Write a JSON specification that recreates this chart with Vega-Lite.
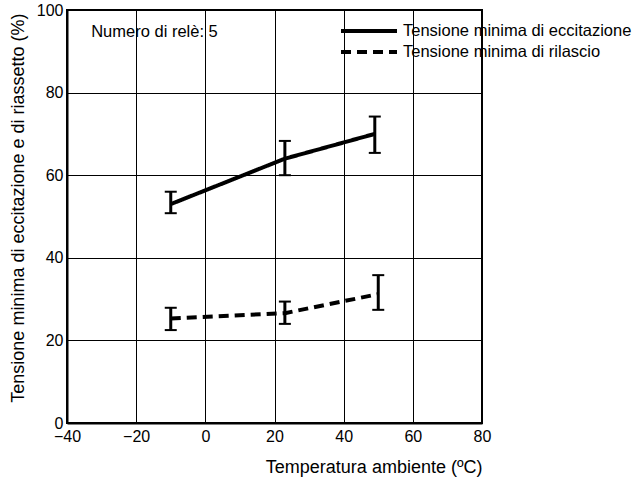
{
  "$schema": "https://vega.github.io/schema/vega-lite/v6.json",
  "autosize": {"type": "none"},
  "padding": {"left": 67, "top": 10, "right": 157, "bottom": 55},
  "width": 415,
  "height": 413,
  "config": {
    "font": "Liberation Sans",
    "view": {"stroke": "black", "strokeWidth": 2},
    "axis": {
      "labelFont": "Liberation Sans",
      "titleFont": "Liberation Sans",
      "labelFontSize": 16,
      "titleFontSize": 18,
      "labelColor": "black",
      "titleColor": "black",
      "titleFontWeight": "normal",
      "gridColor": "black",
      "gridOpacity": 1,
      "gridWidth": 1,
      "domainColor": "black",
      "domainWidth": 2,
      "ticks": false
    }
  },
  "datasets": {
    "pts": [
      {"series": "Tensione minima di eccitazione", "t": -10, "v": 53, "lo": 50.8, "hi": 56},
      {"series": "Tensione minima di eccitazione", "t": 23, "v": 64, "lo": 60, "hi": 68.3},
      {"series": "Tensione minima di eccitazione", "t": 49, "v": 70, "lo": 65.4, "hi": 74.2},
      {"series": "Tensione minima di rilascio", "t": -10, "v": 25.3, "lo": 22.5, "hi": 27.9},
      {"series": "Tensione minima di rilascio", "t": 23, "v": 26.6, "lo": 24, "hi": 29.4},
      {"series": "Tensione minima di rilascio", "t": 50, "v": 31.2, "lo": 27.4, "hi": 35.8}
    ],
    "note": [{"t": -33, "v": 94.7, "label": "Numero di relè: 5"}]
  },
  "layer": [
    {
      "data": {"name": "pts"},
      "mark": {"type": "line", "color": "black", "strokeWidth": 4},
      "encoding": {
        "x": {
          "field": "t", "type": "quantitative",
          "scale": {"domain": [-40, 80], "nice": false},
          "axis": {
            "values": [-40, -20, 0, 20, 40, 60, 80],
            "title": "Temperatura ambiente (ºC)",
            "titleAnchor": "end",
            "titlePadding": 14,
            "labelPadding": 5,
            "labelFlush": false
          }
        },
        "y": {
          "field": "v", "type": "quantitative",
          "scale": {"domain": [0, 100], "nice": false},
          "axis": {
            "values": [0, 20, 40, 60, 80, 100],
            "title": "Tensione minima di eccitazione e di riassetto (%)",
            "titleAngle": -90,
            "titleX": -49,
            "titleY": 3,
            "titleAlign": "right",
            "titleBaseline": "middle",
            "labelPadding": 4,
            "labelFlush": false
          }
        },
        "strokeDash": {
          "field": "series", "type": "nominal",
          "scale": {"range": [[1, 0], [10, 6]]},
          "legend": {
            "title": null,
            "orient": "none",
            "legendX": 293,
            "legendY": 12,
            "symbolType": "M-4,0H4",
            "symbolSize": 196,
            "symbolStrokeWidth": 4,
            "symbolStrokeColor": "black",
            "symbolFillColor": "transparent",
            "labelFontSize": 16.5,
            "labelFont": "Liberation Sans",
            "labelColor": "black",
            "labelOffset": 25,
            "rowPadding": 3,
            "labelLimit": 400
          }
        }
      }
    },
    {
      "data": {"name": "pts"},
      "mark": {"type": "rule", "color": "black", "strokeWidth": 3},
      "encoding": {
        "x": {"field": "t", "type": "quantitative"},
        "y": {"field": "lo", "type": "quantitative"},
        "y2": {"field": "hi"}
      }
    },
    {
      "data": {"name": "pts"},
      "mark": {"type": "tick", "color": "black", "orient": "horizontal", "size": 12, "thickness": 2, "opacity": 1},
      "encoding": {
        "x": {"field": "t", "type": "quantitative"},
        "y": {"field": "lo", "type": "quantitative"}
      }
    },
    {
      "data": {"name": "pts"},
      "mark": {"type": "tick", "color": "black", "orient": "horizontal", "size": 12, "thickness": 2, "opacity": 1},
      "encoding": {
        "x": {"field": "t", "type": "quantitative"},
        "y": {"field": "hi", "type": "quantitative"}
      }
    },
    {
      "data": {"name": "note"},
      "mark": {"type": "text", "align": "left", "baseline": "middle", "fontSize": 16.5, "font": "Liberation Sans", "color": "black"},
      "encoding": {
        "x": {"field": "t", "type": "quantitative"},
        "y": {"field": "v", "type": "quantitative"},
        "text": {"field": "label"}
      }
    }
  ]
}
